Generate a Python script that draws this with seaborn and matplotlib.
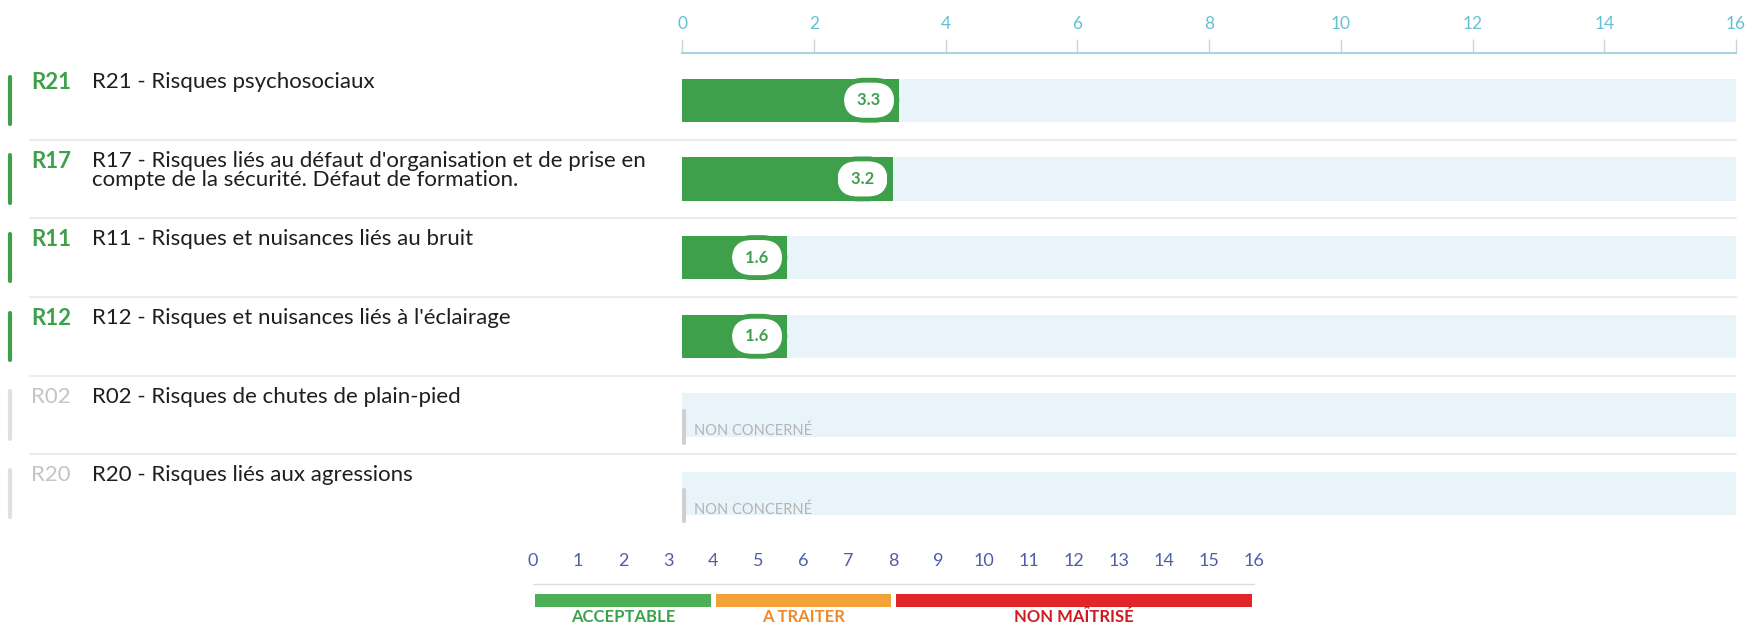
import numpy as np
import matplotlib
matplotlib.use("Agg")
import matplotlib.pyplot as plt
import matplotlib.transforms as mtransforms
import seaborn as sns

# Data
codes = ["R21", "R17", "R11", "R12", "R02", "R20"]
labels = [
    "R21 - Risques psychosociaux",
    "R17 - Risques liés au défaut d'organisation et de prise en\ncompte de la sécurité. Défaut de formation.",
    "R11 - Risques et nuisances liés au bruit",
    "R12 - Risques et nuisances liés à l'éclairage",
    "R02 - Risques de chutes de plain-pied",
    "R20 - Risques liés aux agressions",
]
scores = [3.3, 3.2, 1.6, 1.6, np.nan, np.nan]
concerned = [True, True, True, True, False, False]
top_ticks = [0, 2, 4, 6, 8, 10, 12, 14, 16]
scale_ticks = list(range(17))
zones = ["ACCEPTABLE", "A TRAITER", "NON MAÎTRISÉ"]
zone_bounds = [(0, 4), (4, 8), (8, 16)]
zone_colors = ["#4cae55", "#f3a23a", "#e2242b"]
zone_text_colors = ["#3aa34a", "#ee8a2a", "#cf1a22"]
XMAX = 16

GREEN = "#3fa04b"
FONT = ["Lato", "DejaVu Sans"]

sns.set_theme(style="white")
plt.rcParams["font.family"] = FONT

W, H = 1762, 625
fig = plt.figure(figsize=(W / 100, H / 100), dpi=100)

# main bar axes (pixel box: x 682..1736, y 53..533)
ax = fig.add_axes([682 / W, 1 - 533 / H, (1736 - 682) / W, (533 - 53) / H])

band = [XMAX] * len(codes)
sns.barplot(x=band, y=codes, orient="h", color="#e8f3fa", width=0.55,
            saturation=1, linewidth=0, ax=ax)
sns.barplot(x=scores, y=codes, orient="h", color=GREEN, width=0.55,
            saturation=1, linewidth=0, ax=ax)

ax.set_xlim(0, XMAX)
ax.set_ylim(5.5, -0.6)
ax.set_xlabel("")
ax.set_ylabel("")
ax.set_yticks([])
ax.xaxis.tick_top()
ax.set_xticks(top_ticks)
ax.tick_params(axis="x", top=True, bottom=False, length=10, width=1,
               color="#c8d6dc", labelcolor="#62c1d6", labelsize=12.5, pad=5)
for s in ["left", "right", "bottom"]:
    ax.spines[s].set_visible(False)
ax.spines["top"].set_color("#a8d4e2")
ax.spines["top"].set_linewidth(1.5)

# value badges / non concerned tags
for i, (v, c) in enumerate(zip(scores, concerned)):
    if c:
        ax.text(v - 0.46, i, f" {v:.1f} ", ha="center", va="center",
                fontsize=12, color=GREEN, fontweight="bold",
                bbox=dict(boxstyle="round,pad=0.72,rounding_size=1.35",
                          fc="white", ec=GREEN, lw=3.5))
    else:
        ax.plot([0.03, 0.03], [i - 0.05, i + 0.35], color="#cfcfcf", lw=3,
                solid_capstyle="round")
        ax.text(0.18, i + 0.2, "NON CONCERNÉ", ha="left", va="center",
                fontsize=10.5, color="#b4b4b4")

# left labels, in figure x / data y
trans = mtransforms.blended_transform_factory(fig.transFigure, ax.transData)
for i, (code, lab, c) in enumerate(zip(codes, labels, concerned)):
    col = GREEN if c else "#c4c4c4"
    fig.text(31 / W, i - 0.36, code, transform=trans, ha="left", va="top",
             fontsize=16, color=col, fontweight="bold" if c else "normal")
    fig.text(92 / W, i - 0.36, lab, transform=trans, ha="left", va="top",
             fontsize=16, color="#1e1e1e", linespacing=0.95)
    fig.lines.append(plt.Line2D([10 / W, 10 / W], [i - 0.3, i + 0.3],
                                transform=trans, color=GREEN if c else "#e0e0e0",
                                lw=3))
for i in range(len(codes) - 1):
    fig.lines.append(plt.Line2D([30 / W, 1736 / W], [i + 0.5, i + 0.5],
                                transform=trans, color="#ececec", lw=1.5))

# bottom scale legend (pixel box: x 533..1254, y 594..607)
lg = fig.add_axes([533 / W, 1 - 607 / H, (1254 - 533) / W, 13 / H])
for (a, b), col in zip(zone_bounds, zone_colors):
    lg.barh([0], [b - a - 0.1], left=[a + 0.05], height=1.0, color=col,
            linewidth=0)
lg.set_xlim(0, XMAX)
lg.set_ylim(-0.5, 0.5)
lg.set_yticks([])
lg.xaxis.tick_top()
lg.set_xticks(scale_ticks)
lg.tick_params(axis="x", top=False, bottom=False, length=0,
               labelcolor="#4f5fa6", labelsize=13, pad=18)
for s in lg.spines.values():
    s.set_visible(False)
lg.plot([0, XMAX], [1.3, 1.3], color="#dddddd", lw=1, clip_on=False)
ltrans = mtransforms.blended_transform_factory(lg.transData, fig.transFigure)
for (a, b), name, col in zip(zone_bounds, zones, zone_text_colors):
    lg.text((a + b) / 2, 1 - 622 / H, name, transform=ltrans, ha="center",
            va="baseline", fontsize=12, color=col, fontweight="bold",
            clip_on=False)

fig.savefig("out.png", dpi=100, facecolor="white")
